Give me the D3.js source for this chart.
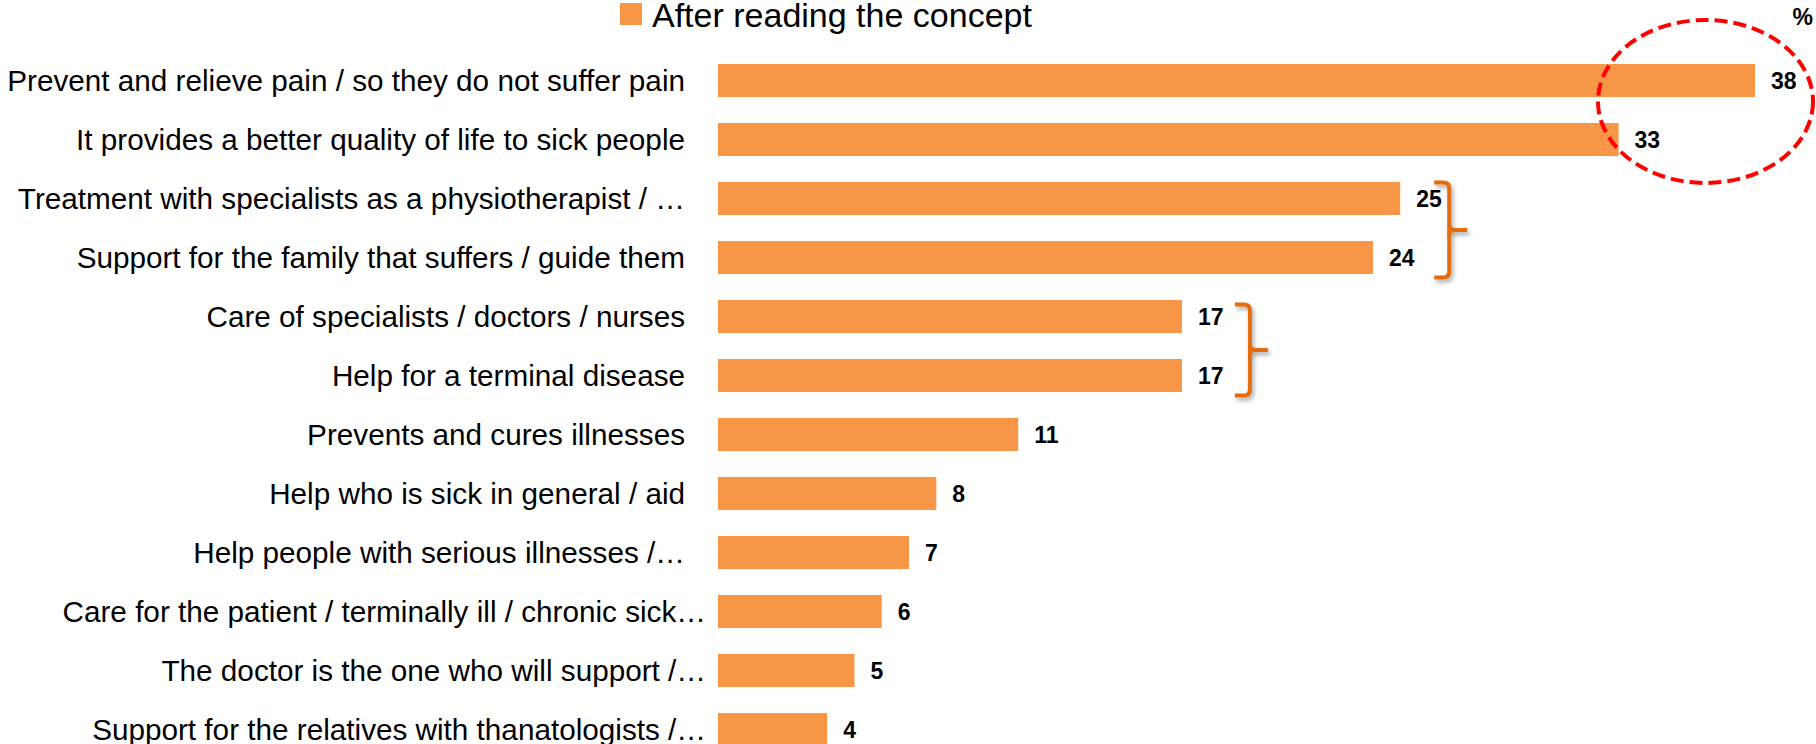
<!DOCTYPE html>
<html>
<head>
<meta charset="utf-8">
<script src="https://cdn.jsdelivr.net/npm/d3@7"></script>
<style>
  html, body { margin: 0; padding: 0; background: #ffffff; }
  svg { display: block; }
</style>
</head>
<body>
<svg id="chart" width="1816" height="744"></svg>
<script>
// Reasons mentioned after reading the concept (%)
const categories = [
  "Prevent and relieve pain / so they do not suffer pain",
  "It provides a better quality of life to sick people",
  "Treatment with specialists as a physiotherapist / …",
  "Support for the family that suffers / guide them",
  "Care of specialists / doctors / nurses",
  "Help for a terminal disease",
  "Prevents and cures illnesses",
  "Help who is sick in general / aid",
  "Help people with serious illnesses /…",
  "Care for the patient / terminally ill / chronic sick…",
  "The doctor is the one who will support /…",
  "Support for the relatives with thanatologists /…"
];
const values = [38, 33, 25, 24, 17, 17, 11, 8, 7, 6, 5, 4];
const seriesName = "After reading the concept";
const unitLabel = "%";
// Pairs of rows grouped with a brace
const bracedGroups = [[2, 3], [4, 5]];
// Rows picked out by the dashed ellipse
const highlighted = [0, 1];

const svg = d3.select("#chart");
const FONT = "'Liberation Sans', Arial, sans-serif";

const x = d3.scaleLinear().domain([0, 38]).range([718, 1755]);
const y = d3.scaleBand()
  .domain(categories)
  .range([51, 759])
  .paddingInner(0.44)
  .paddingOuter(0.22);

const defs = svg.append("defs");
const shadow = defs.append("filter").attr("id", "braceShadow")
  .attr("x", "-50%").attr("y", "-20%").attr("width", "200%").attr("height", "140%");
shadow.append("feDropShadow")
  .attr("dx", 2).attr("dy", 3).attr("stdDeviation", 2)
  .attr("flood-color", "#000").attr("flood-opacity", 0.35);

// Bars
svg.append("g").selectAll("rect")
  .data(values)
  .join("rect")
  .attr("x", x(0))
  .attr("y", (d, i) => y(categories[i]))
  .attr("width", d => x(d) - x(0))
  .attr("height", y.bandwidth())
  .attr("fill", "#F79646");

// Category axis
const axis = svg.append("g")
  .attr("transform", `translate(${x(0)},0)`)
  .call(d3.axisLeft(y).tickSize(0).tickPadding(33));
axis.select(".domain").remove();
axis.selectAll("text")
  .attr("font-family", FONT)
  .attr("font-size", 29.7)
  .attr("fill", "#000")
  .attr("dy", "0.35em");
// The last three truncated labels run a little closer to the bars
axis.selectAll(".tick")
  .filter(d => categories.indexOf(d) >= 9)
  .select("text")
  .attr("x", -12);

// Value labels
svg.append("g").selectAll("text")
  .data(values)
  .join("text")
  .attr("x", d => x(d) + 16)
  .attr("y", (d, i) => y(categories[i]) + y.bandwidth() / 2)
  .attr("dy", "0.36em")
  .attr("font-family", FONT)
  .attr("font-weight", "bold")
  .attr("font-size", 23)
  .attr("fill", "#000")
  .text(d => d);

// Legend
const legend = svg.append("g");
legend.append("rect")
  .attr("x", 620).attr("y", 3).attr("width", 22).attr("height", 22)
  .attr("fill", "#F79646");
legend.append("text")
  .attr("x", 652).attr("y", 27)
  .attr("font-family", FONT)
  .attr("font-size", 34)
  .attr("fill", "#000")
  .text(seriesName);

// Unit marker
svg.append("text")
  .attr("x", 1813).attr("y", 25)
  .attr("text-anchor", "end")
  .attr("font-family", FONT)
  .attr("font-weight", "bold")
  .attr("font-size", 23)
  .attr("fill", "#000")
  .text(unitLabel);

// Braces grouping pairs of rows
const braceColor = "#E46C0A";
const braceOffsets = [34, 53];
const braceInsets = [0.5, 4.5];
bracedGroups.forEach((g, k) => {
  const top = y(categories[g[0]]) + braceInsets[k];
  const bottom = y(categories[g[1]]) + y.bandwidth() + 3.5;
  const mid = (top + bottom) / 2;
  const x0 = x(d3.max(g, i => values[i])) + braceOffsets[k];
  const x1 = x0 + 15;
  const x2 = x1 + 18;
  const r = 6;
  const b = svg.append("g")
    .attr("fill", "none")
    .attr("stroke", braceColor)
    .attr("stroke-width", 4)
    .attr("filter", "url(#braceShadow)");
  b.append("path").attr("d",
    `M${x0},${top} H${x1 - r} Q${x1},${top} ${x1},${top + r}` +
    ` V${bottom - r} Q${x1},${bottom} ${x1 - r},${bottom} H${x0}`);
  b.append("path").attr("d",
    `M${x1},${mid - 5} Q${x1},${mid} ${x1 + 6},${mid} H${x2}` +
    ` M${x1},${mid + 5} Q${x1},${mid} ${x1 + 6},${mid}`);
});

// Dashed ellipse around the top two results
const hTop = y(categories[highlighted[0]]);
const hBottom = y(categories[highlighted[1]]) + y.bandwidth();
svg.append("ellipse")
  .attr("cx", x(values[highlighted[0]]) - 49.5)
  .attr("cy", (hTop + hBottom) / 2 - 8.5)
  .attr("rx", 107.5)
  .attr("ry", 81.5)
  .attr("fill", "none")
  .attr("stroke", "#FF0000")
  .attr("stroke-width", 4)
  .attr("stroke-dasharray", "13 6");
</script>
</body>
</html>
